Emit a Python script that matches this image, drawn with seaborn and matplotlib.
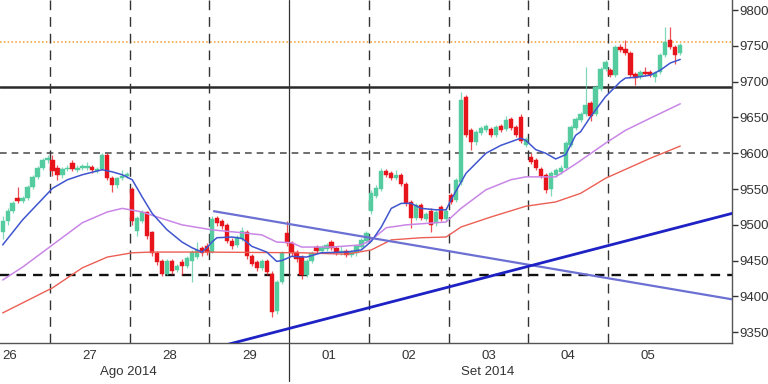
import matplotlib
matplotlib.use("Agg")
import matplotlib.pyplot as plt
import seaborn as sns
import numpy as np

# ---------------- data ----------------
opens = [9490, 9505, 9520, 9537, 9533, 9537, 9553, 9567, 9579, 9590,
         9590, 9580, 9570, 9578, 9586, 9577, 9579, 9580, 9581, 9575, 9578, 9598, 9565, 9555, 9565, 9568,
         9550, 9492, 9505, 9518, 9490, 9460, 9450, 9432, 9450, 9437, 9448, 9443, 9450, 9455, 9468, 9470,
         9462, 9510, 9505, 9500, 9478, 9472, 9480, 9490, 9456, 9448, 9440, 9450, 9432, 9380, 9420, 9488,
         9474, 9462, 9455, 9430, 9450, 9469, 9464, 9466, 9476, 9468, 9461, 9463, 9458, 9460, 9469, 9478,
         9520, 9540, 9550, 9575, 9572, 9566, 9570, 9557, 9532, 9510, 9528, 9508, 9520, 9502, 9525, 9508,
         9542, 9535, 9560, 9678, 9632, 9615, 9628, 9632, 9634, 9626, 9638, 9634, 9648, 9636, 9650, 9612,
         9595, 9590, 9578, 9570, 9550, 9570, 9574, 9580, 9612, 9635, 9647, 9655, 9670, 9655, 9690, 9718,
         9716, 9709, 9748, 9746, 9740, 9710, 9706, 9714, 9713, 9707, 9713, 9737, 9758, 9748, 9740]
highs = [9512, 9524, 9534, 9553, 9540, 9556, 9570, 9582, 9593, 9597,
         9598, 9583, 9581, 9583, 9590, 9583, 9585, 9588, 9584, 9581, 9601, 9600, 9568, 9567, 9576, 9574,
         9553, 9513, 9521, 9520, 9492, 9463, 9452, 9453, 9453, 9446, 9452, 9457, 9465, 9476, 9471, 9474,
         9512, 9513, 9508, 9502, 9481, 9486, 9497, 9493, 9459, 9451, 9453, 9453, 9435, 9423, 9463, 9505,
         9477, 9465, 9458, 9453, 9463, 9472, 9472, 9475, 9479, 9471, 9470, 9466, 9465, 9473, 9482, 9491,
         9548, 9555, 9579, 9578, 9575, 9577, 9573, 9560, 9535, 9531, 9531, 9518, 9523, 9521, 9528, 9523,
         9545, 9566, 9685, 9682, 9635, 9633, 9638, 9641, 9637, 9639, 9641, 9652, 9651, 9639, 9655, 9623,
         9600, 9593, 9581, 9573, 9575, 9579, 9583, 9617, 9639, 9651, 9658, 9720, 9673, 9695, 9721, 9730,
         9719, 9751, 9752, 9758, 9743, 9713, 9716, 9720, 9716, 9715, 9740, 9776, 9776, 9751, 9754]
lows = [9480, 9500, 9516, 9530, 9530, 9535, 9550, 9564, 9576, 9587,
        9568, 9563, 9566, 9575, 9575, 9574, 9577, 9577, 9572, 9572, 9576, 9562, 9546, 9552, 9562, 9565,
        9500, 9485, 9502, 9480, 9456, 9444, 9428, 9430, 9432, 9434, 9430, 9440, 9420, 9452, 9456, 9458,
        9460, 9498, 9494, 9474, 9466, 9469, 9477, 9452, 9442, 9436, 9437, 9430, 9372, 9375, 9417, 9470,
        9457, 9448, 9425, 9427, 9447, 9461, 9461, 9463, 9465, 9458, 9458, 9455, 9455, 9457, 9466, 9475,
        9515, 9537, 9547, 9567, 9562, 9563, 9554, 9527, 9495, 9507, 9507, 9505, 9490, 9499, 9505, 9505,
        9529, 9532, 9555, 9622, 9605, 9612, 9625, 9629, 9622, 9623, 9630, 9631, 9632, 9622, 9614, 9609,
        9585, 9577, 9565, 9544, 9540, 9567, 9571, 9577, 9609, 9632, 9644, 9652, 9645, 9652, 9687, 9715,
        9706, 9706, 9741, 9737, 9706, 9695, 9703, 9708, 9706, 9700, 9710, 9734, 9745, 9725, 9737]
closes = [9505, 9520, 9530, 9533, 9537, 9553, 9567, 9579, 9590, 9594,
          9575, 9570, 9578, 9580, 9578, 9580, 9582, 9581, 9576, 9578, 9598, 9565, 9555, 9565, 9568, 9571,
          9505, 9510, 9518, 9485, 9460, 9448, 9432, 9450, 9435, 9442, 9442, 9454, 9462, 9465, 9460, 9462,
          9508, 9502, 9498, 9477, 9470, 9483, 9492, 9456, 9446, 9440, 9450, 9434, 9378, 9420, 9460, 9474,
          9460, 9452, 9430, 9450, 9460, 9464, 9469, 9472, 9468, 9461, 9463, 9458, 9462, 9470, 9479, 9488,
          9545, 9552, 9575, 9570, 9565, 9569, 9557, 9530, 9510, 9528, 9510, 9515, 9500, 9518, 9508, 9520,
          9532, 9563, 9675, 9625, 9615, 9630, 9635, 9638, 9625, 9636, 9633, 9646, 9635, 9625, 9617, 9620,
          9588, 9580, 9568, 9548, 9572, 9576, 9580, 9614, 9636, 9648, 9655, 9668, 9652, 9692, 9718, 9727,
          9709, 9748, 9744, 9740, 9709, 9705, 9713, 9711, 9709, 9712, 9737, 9755, 9748, 9737, 9751]

# moving averages (candle index, value)
ma_fast_x = [0, 4, 10, 13, 16, 20, 22, 24, 26, 28, 30, 33, 36, 38, 40, 41, 42, 43, 46, 48, 49, 50, 53,
             55, 56, 58, 61, 64, 69, 72, 74, 76, 78, 80, 82, 84, 87, 89, 90, 93, 97, 100, 104, 105, 107,
             109, 111, 113, 115, 116, 118, 121, 124, 125, 127, 130, 132, 134, 136]
ma_fast_y = [9472, 9507, 9551, 9563, 9570, 9577, 9574, 9570, 9563, 9539, 9516, 9493, 9476, 9468, 9462,
             9468, 9476, 9482, 9483, 9481, 9476, 9470, 9462, 9449, 9450, 9456, 9455, 9461, 9462, 9465,
             9477, 9497, 9523, 9530, 9530, 9523, 9521, 9521, 9535, 9572, 9600, 9611, 9621, 9618, 9605,
             9600, 9592, 9598, 9625, 9630, 9651, 9679, 9700, 9705, 9706, 9709, 9716, 9726, 9731]
ma_mid_x = [0, 4, 10, 16, 21, 24, 28, 31, 36, 42, 48, 52, 55, 58, 60, 66, 72, 74, 77, 81, 87, 89, 92,
            97, 102, 105, 111, 115, 121, 125, 130, 136]
ma_mid_y = [9423, 9441, 9472, 9503, 9518, 9523, 9518, 9511, 9500, 9493, 9489, 9486, 9476, 9475, 9469,
            9469, 9472, 9479, 9496, 9500, 9503, 9504, 9523, 9549, 9563, 9567, 9567, 9585, 9614, 9632,
            9649, 9669]
ma_slow_x = [0, 10, 16, 21, 26, 30, 40, 60, 69, 74, 78, 84, 89, 92, 98, 105, 111, 116, 121, 130, 136]
ma_slow_y = [9377, 9412, 9440, 9455, 9461, 9462, 9462, 9461, 9459, 9465, 9479, 9482, 9483, 9497, 9511,
             9526, 9532, 9544, 9565, 9593, 9610]

# trend lines (index, value)
trend_down_x = [42.4, 146.4]
trend_down_y = [9519, 9396]
trend_up_x = [44.6, 146.4]
trend_up_y = [9332, 9516]

# horizontal levels
level_orange = 9755
level_black = 9692
level_grey = 9600
level_black_dash = 9430

# axis labels
day_labels = ["26", "27", "28", "29", "01", "02", "03", "04", "05"]
day_centers = [1.5, 17.5, 33.5, 49.5, 65.5, 81.5, 97.5, 113.5, 129.5]
day_bounds = [9.5, 25.5, 41.5, 73.5, 89.5, 105.5, 121.5]
month_bound = 57.5
month_labels = ["Ago 2014", "Set 2014"]
y_ticks = [9350, 9400, 9450, 9500, 9550, 9600, 9650, 9700, 9750, 9800]

# ---------------- plot ----------------
sns.set_style("white")
plt.rcParams['font.family'] = ['Liberation Sans', 'DejaVu Sans']

fig = plt.figure(figsize=(7.68, 3.84), dpi=100)
ax = fig.add_axes([0, 41 / 384, 732 / 768, 343 / 384])

x = np.arange(len(closes))
o = np.array(opens, dtype=float)
c = np.array(closes, dtype=float)
h = np.array(highs, dtype=float)
l = np.array(lows, dtype=float)
up = c >= o
green = "#55cba0"
red = "#e8141c"
cols = np.where(up, green, red)

# reference lines
ax.axhline(level_orange, color="#f39c2b", lw=1.1, ls=(0, (1, 1.5)), zorder=1)
ax.axhline(level_black, color="#2a2a2a", lw=1.8, zorder=1)
ax.axhline(level_grey, color="#555555", lw=1.2, ls=(0, (4, 3)), zorder=1)
ax.axhline(level_black_dash, color="#111111", lw=1.7, ls=(0, (4, 3)), zorder=1)
for b in day_bounds:
    ax.axvline(b, color="#333333", lw=1.0, ls=(0, (7, 5)), zorder=1)
ax.plot([month_bound, month_bound], [9335, 9814], color="#333333", lw=0.9, zorder=1)
ax.plot([month_bound, month_bound], [9335, 9282], color="#333333", lw=0.9,
        clip_on=False, zorder=1)

# candles
ax.vlines(x, l, h, colors=cols, lw=0.9, alpha=0.75, zorder=2)
body_bottom = np.minimum(o, c)
body_h = np.maximum(np.abs(c - o), 2.0)
ax.bar(x, body_h, bottom=body_bottom, width=0.86, color=cols, edgecolor=cols, lw=0.3, zorder=3)

# moving averages
sns.lineplot(x=ma_slow_x, y=ma_slow_y, ax=ax, color="#ec5f55", lw=1.0, zorder=4)
sns.lineplot(x=ma_mid_x, y=ma_mid_y, ax=ax, color="#c986e6", lw=1.1, zorder=4)
sns.lineplot(x=ma_fast_x, y=ma_fast_y, ax=ax, color="#3f55cf", lw=1.1, zorder=4)

# trend lines
sns.lineplot(x=trend_down_x, y=trend_down_y, ax=ax, color="#6b70d2", lw=1.6, zorder=5)
sns.lineplot(x=trend_up_x, y=trend_up_y, ax=ax, color="#1e22c4", lw=2.0, zorder=5)

ax.set_xlim(-0.536, 146.39)
ax.set_ylim(9335, 9814)

# spines
for s in ["top", "left"]:
    ax.spines[s].set_visible(False)
for s in ["right", "bottom"]:
    ax.spines[s].set_visible(True)
    ax.spines[s].set_color("#555555")
    ax.spines[s].set_linewidth(1.0)

ax.yaxis.tick_right()
ax.set_yticks(y_ticks)
ax.set_yticklabels([str(v) for v in y_ticks])
ax.tick_params(axis="y", direction="out", length=4, width=1, color="#333333",
               labelsize=9.5, labelcolor="#333333", pad=1, right=True, left=False)
ax.set_xticks(day_centers)
ax.set_xticklabels(day_labels)
ax.tick_params(axis="x", length=0, labelsize=9.5, labelcolor="#333333", pad=5)
ax.set_xlabel("")
ax.set_ylabel("")

fig.text(128 / 768, 1 - 372 / 384, month_labels[0], ha="center", va="center",
         fontsize=9.5, color="#333333")
fig.text(488 / 768, 1 - 372 / 384, month_labels[1], ha="center", va="center",
         fontsize=9.5, color="#333333")

fig.savefig("out.png", dpi=100)
